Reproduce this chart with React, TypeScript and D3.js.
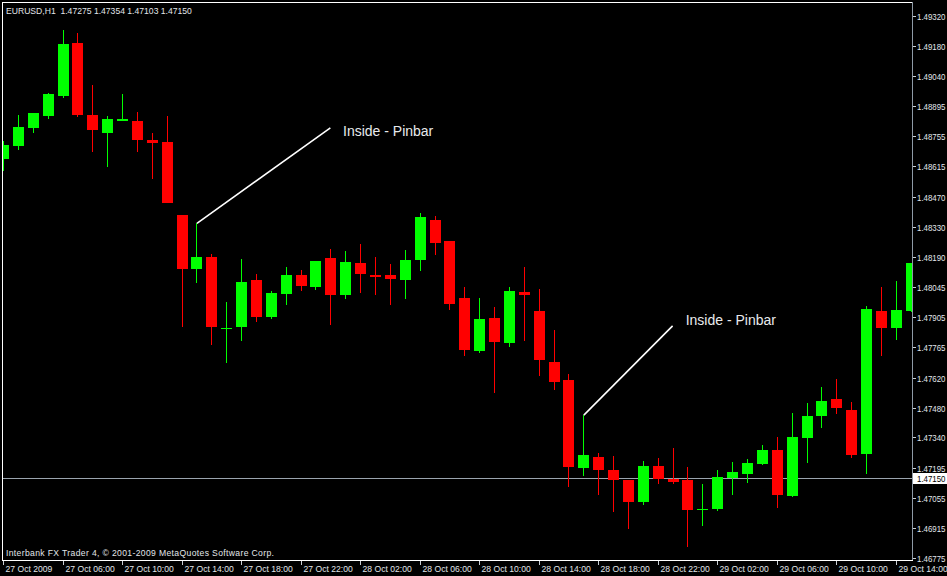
import React from "react";
import * as d3 from "d3";

// EURUSD H1 bars, 27 Oct 2009 02:00 onwards
const opens = [
  1.48649, 1.4871, 1.48795, 1.48851, 1.48945, 1.49193, 1.48855, 1.48771, 1.48831, 1.48826,
  1.48737, 1.48728, 1.48385, 1.48131, 1.48187, 1.47854, 1.4786, 1.48079, 1.47905, 1.48015,
  1.48103, 1.48048, 1.48183, 1.4801, 1.48161, 1.48103, 1.48103, 1.48079, 1.48173, 1.48361,
  1.48262, 1.47995, 1.47747, 1.47901, 1.47784, 1.48023, 1.47934, 1.47694, 1.47609, 1.47197,
  1.47247, 1.47186, 1.47139, 1.47036, 1.47205, 1.47144, 1.47139, 1.47003, 1.47003, 1.47149,
  1.47169, 1.47216, 1.47283, 1.47064, 1.47338, 1.47441, 1.4752, 1.47469, 1.47263, 1.47934,
  1.47855, 1.47935,
];
const highs = [
  1.48732, 1.48855, 1.48864, 1.48958, 1.49254, 1.4924, 1.48996, 1.4885, 1.48953, 1.48869,
  1.4877, 1.4885, 1.48385, 1.48346, 1.48201, 1.47976, 1.48178, 1.48107, 1.48027, 1.4814,
  1.48126, 1.48169, 1.48225, 1.48216, 1.48248, 1.48187, 1.48154, 1.4822, 1.48394, 1.4838,
  1.48262, 1.48046, 1.47995, 1.47952, 1.48046, 1.4814, 1.48037, 1.47844, 1.47637, 1.47445,
  1.47266, 1.47252, 1.47139, 1.47228, 1.47242, 1.4729, 1.472, 1.4712, 1.47186, 1.47224,
  1.47238, 1.47304, 1.47341, 1.47454, 1.47501, 1.47576, 1.47614, 1.47506, 1.47957, 1.48046,
  1.48074, 1.48159,
];
const lows = [
  1.48593, 1.48691, 1.48771, 1.48834, 1.48936, 1.48847, 1.48682, 1.48612, 1.48828, 1.48682,
  1.48555, 1.4844, 1.4786, 1.48065, 1.47774, 1.47689, 1.47792, 1.47883, 1.47897, 1.47962,
  1.48027, 1.48034, 1.47868, 1.47991, 1.48018, 1.4801, 1.47962, 1.4799, 1.48123, 1.48197,
  1.4794, 1.47723, 1.47738, 1.4755, 1.47766, 1.47794, 1.47629, 1.47564, 1.47108, 1.47159,
  1.47069, 1.4699, 1.46909, 1.47023, 1.4712, 1.47121, 1.46826, 1.46923, 1.46995, 1.47069,
  1.47126, 1.47211, 1.47009, 1.4706, 1.4722, 1.47385, 1.47451, 1.47244, 1.47169, 1.47722,
  1.47797, 1.4793,
];
const closes = [
  1.48714, 1.48798, 1.48864, 1.48953, 1.49188, 1.48856, 1.48785, 1.48836, 1.48836, 1.48736,
  1.48724, 1.48441, 1.48131, 1.48187, 1.47858, 1.47856, 1.4807, 1.47905, 1.48018, 1.48103,
  1.48052, 1.48169, 1.48009, 1.48165, 1.48107, 1.48099, 1.48085, 1.48173, 1.48375, 1.48254,
  1.47968, 1.47752, 1.47896, 1.47788, 1.48027, 1.4801, 1.47705, 1.47601, 1.47202, 1.47257,
  1.47188, 1.47141, 1.47037, 1.47205, 1.47144, 1.47131, 1.46999, 1.47005, 1.47153, 1.47177,
  1.47218, 1.47283, 1.4707, 1.47341, 1.4744, 1.4751, 1.47477, 1.47258, 1.47943, 1.47854,
  1.47938, 1.48159,
];

// time axis: bar index of each label
const timeTickBars = [0, 4, 8, 12, 16, 20, 24, 28, 32, 36, 40, 44, 48, 52, 56, 60];
const timeTickLabels = [
  "27 Oct 2009", "27 Oct 06:00", "27 Oct 10:00", "27 Oct 14:00", "27 Oct 18:00", "27 Oct 22:00",
  "28 Oct 02:00", "28 Oct 06:00", "28 Oct 10:00", "28 Oct 14:00", "28 Oct 18:00", "28 Oct 22:00",
  "29 Oct 02:00", "29 Oct 06:00", "29 Oct 10:00", "29 Oct 14:00",
];

// price axis labels
const priceTicks = [
  1.4932, 1.4918, 1.4904, 1.48895, 1.48755, 1.48615, 1.4847, 1.4833, 1.4819, 1.48045,
  1.47905, 1.47765, 1.4762, 1.4748, 1.4734, 1.47195, 1.47055, 1.46915, 1.46775,
];

const symbol = "EURUSD,H1";
const lastQuote = [1.47275, 1.47354, 1.47103, 1.4715]; // O H L C of current bar
const bidPrice = 1.4715;
const footer = "Interbank FX Trader 4, © 2001-2009 MetaQuotes Software Corp.";

// annotation: pinbar index, line end (bar, price), text position (bar, price)
const noteText = ["Inside - Pinbar", "Inside - Pinbar"];
const noteBar = [13, 39];
const noteEndBar = [22, 45];
const noteEndPrice = [1.48794, 1.47864];
const noteTextBar = [22.85, 45.88];
const noteTextPrice = [1.48756, 1.4787];

const W = 947;
const H = 576;
const plotLeft = 2;
const plotRight = 912;
const plotTop = 2;
const plotBottom = 560;

const UP = "#00ff00";
const DOWN = "#ff0000";
const TEXT = "#e2e6ea";
const FONT = "'Liberation Sans', Arial, sans-serif";

export default function App() {
  const x = d3.scaleLinear().domain([0, 61]).range([3, 3 + 14.88 * 61]);
  const y = d3.scaleLinear().domain([1.46775, 1.4932]).range([557.7, 16]);
  const bodyHalf = 5;

  const bars = d3.range(opens.length).map((i) => ({
    i,
    o: opens[i],
    h: highs[i],
    l: lows[i],
    c: closes[i],
  }));

  const fmt = d3.format(".5f");

  return (
    <svg
      width={W}
      height={H}
      style={{ position: "absolute", left: 0, top: 0, background: "#000", display: "block" }}
      shapeRendering="crispEdges"
    >
      <defs>
        <clipPath id="plot">
          <rect x={plotLeft + 1} y={plotTop + 1} width={plotRight - plotLeft - 1} height={plotBottom - plotTop - 1} />
        </clipPath>
      </defs>
      <rect x={0} y={0} width={W} height={H} fill="#000" />

      {/* bid line */}
      <line
        x1={plotLeft}
        x2={plotRight}
        y1={Math.round(y(bidPrice)) + 0.5}
        y2={Math.round(y(bidPrice)) + 0.5}
        stroke="#9aa4ae"
      />

      <g clipPath="url(#plot)">
        {bars.map((b) => {
          const cx = Math.round(x(b.i)) + 0.5;
          const col = b.c >= b.o ? UP : DOWN;
          const top = y(Math.max(b.o, b.c));
          const bot = y(Math.min(b.o, b.c));
          return (
            <g key={b.i}>
              <line x1={cx} x2={cx} y1={y(b.h)} y2={y(b.l)} stroke={col} strokeWidth={1} />
              <rect
                x={Math.round(x(b.i)) - bodyHalf}
                y={top}
                width={bodyHalf * 2 + 1}
                height={Math.max(1.5, bot - top)}
                fill={col}
              />
            </g>
          );
        })}
      </g>

      {/* annotations */}
      <g shapeRendering="auto">
        {noteText.map((t, k) => (
          <g key={k}>
            <line
              x1={x(noteBar[k]) + 0.5}
              y1={y(highs[noteBar[k]])}
              x2={x(noteEndBar[k])}
              y2={y(noteEndPrice[k])}
              stroke="#ffffff"
              strokeWidth={1.6}
            />
            <text
              x={x(noteTextBar[k])}
              y={y(noteTextPrice[k])}
              fill="#e8eaec"
              fontFamily={FONT}
              fontSize={14}
            >
              {t}
            </text>
          </g>
        ))}
      </g>

      {/* frame */}
      <line x1={plotLeft + 0.5} x2={plotLeft + 0.5} y1={plotTop} y2={plotBottom} stroke="#fff" />
      <line x1={plotLeft} x2={plotRight} y1={plotTop + 0.5} y2={plotTop + 0.5} stroke="#fff" />
      <line x1={plotLeft} x2={plotRight + 1} y1={plotBottom + 0.5} y2={plotBottom + 0.5} stroke="#fff" />
      <line x1={plotRight + 0.5} x2={plotRight + 0.5} y1={plotTop} y2={plotBottom} stroke="#8e9aa6" />

      {/* price axis */}
      {priceTicks.map((p) => {
        const ty = Math.round(y(p)) + 0.5;
        return (
          <g key={p}>
            <line x1={plotRight + 1} x2={plotRight + 4} y1={ty} y2={ty} stroke="#c8ced4" />
            <text
              x={917}
              y={ty + 3.5}
              fill={TEXT}
              fontFamily={FONT}
              fontSize={8.6}
              textLength={28.5}
              lengthAdjust="spacingAndGlyphs"
            >
              {fmt(p)}
            </text>
          </g>
        );
      })}
      <rect x={913} y={Math.round(y(bidPrice)) - 5} width={34} height={11} fill="#ffffff" />
      <text
        x={917}
        y={Math.round(y(bidPrice)) + 4}
        fill="#000"
        fontFamily={FONT}
        fontSize={8.6}
        textLength={28.5}
        lengthAdjust="spacingAndGlyphs"
      >
        {fmt(bidPrice)}
      </text>

      {/* time axis */}
      {timeTickBars.map((bi, k) => {
        const tx = Math.round(x(bi)) + 0.5;
        return (
          <g key={bi}>
            <line x1={tx} x2={tx} y1={plotBottom + 1} y2={plotBottom + 5} stroke="#c8ced4" />
            <text x={tx + 2} y={572} fill={TEXT} fontFamily={FONT} fontSize={8.6}>
              {timeTickLabels[k]}
            </text>
          </g>
        );
      })}

      {/* header and footer */}
      <text x={6} y={13.5} fill={TEXT} fontFamily={FONT} fontSize={8.6} xmlSpace="preserve">
        {symbol + "  " + lastQuote.map((v) => fmt(v)).join(" ")}
      </text>
      <text
        x={6}
        y={556}
        fill={TEXT}
        fontFamily={FONT}
        fontSize={8.6}
        textLength={268}
        lengthAdjust="spacing"
      >
        {footer}
      </text>
    </svg>
  );
}
